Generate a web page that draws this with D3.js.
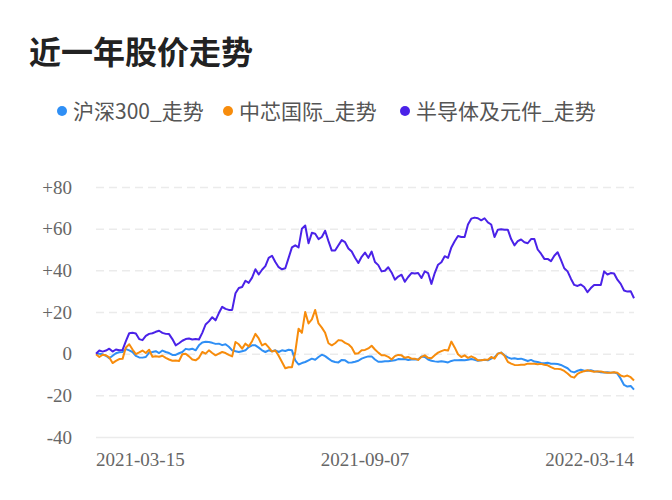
<!DOCTYPE html>
<html>
<head>
<meta charset="utf-8">
<script src="https://cdn.jsdelivr.net/npm/d3@7"></script>
<style>
  html, body { margin: 0; padding: 0; background: #fff; }
  svg { display: block; }
</style>
</head>
<body>
<svg id="chart" width="672" height="500"></svg>
<script>
const title = "近一年股价走势";
const seriesNames = ["沪深300_走势", "中芯国际_走势", "半导体及元件_走势"];
const seriesColors = ["#2f8ff5", "#f78c0c", "#4a22e8"];
const yTicks = [-40, -20, 0, 20, 40, 60, 80];
const yTickLabels = ["-40", "-20", "0", "+20", "+40", "+60", "+80"];
const xTickLabels = ["2021-03-15", "2021-09-07", "2022-03-14"];

const hs300 = [0,0,-0.3,-1,-2.2,-1,0.2,0.7,0.8,2.2,1.6,0.8,-1.1,-1.8,-1.9,-1.6,0.5,0.8,1.2,0.3,1.5,0.8,0.3,-0.6,-0.6,0.2,0.8,2.3,2,2.4,1.6,4,5.4,5.7,5.6,5.2,4.7,4.8,4.1,4.5,3.3,1.6,1.2,0.8,1.2,1.6,3.2,4,4,2.9,1.6,0.8,1.6,1.2,1.6,0.8,1.6,1.3,1.9,1.6,-3.2,-5.2,-4.5,-4,-3.2,-2.4,-2.9,-1.6,-0.5,-1.2,-2.4,-3.5,-4,-4.2,-3,-3.2,-4.3,-4.2,-3.9,-3.4,-2.4,-1.8,-1.3,-1.3,-2.8,-3.9,-3.9,-3.6,-3.6,-3.4,-3.2,-2.6,-2.7,-2.6,-3,-2.8,-2.8,-2.8,-1.4,-1.6,-2.8,-3.4,-3.7,-3.9,-3.6,-3.9,-4.2,-3.5,-3.1,-3.2,-3,-3.2,-2.9,-2.6,-2.9,-3.4,-3.2,-2.9,-3.2,-2.4,-1.8,0,0.5,-0.8,-1.8,-2.4,-2.2,-2.6,-2.4,-2.9,-3.5,-3,-3.8,-4,-4.5,-4.6,-4.4,-4.8,-4.8,-5,-5.4,-6.2,-7,-8.5,-9,-8.2,-7.7,-8.2,-8.2,-8,-8.4,-8.6,-8.9,-9,-8.9,-9.1,-9,-9.6,-12,-15,-15.8,-15.5,-17.3];

const smic = [-0.3,-1.6,-0.5,-0.8,-1.8,-4.5,-3.5,-2.6,-2.5,3,4.5,2,-0.2,0.6,1.5,0.3,1.9,-1.5,-1.2,-1.5,-1,-2,-2.8,-3.4,-3.3,-3.5,-0.3,0,-1.3,-2.8,-3.2,-2,0.8,0,1.6,0.3,-0.8,0,0.8,0.3,-0.6,-1.3,5.6,4.5,2.4,4.8,3.5,6,9.5,7.3,4,4.8,3,1,1.5,-1,-4,-7,-6.5,-6.5,0.8,12,10,20,14.5,16.5,21,14.5,12.5,10,5,4,5,6.5,6.3,5.2,4.5,3,0,0.2,1.6,1.8,2.5,3.8,2,0.5,-0.8,-0.8,-1.5,-2.8,-1.2,-0.6,-0.8,-2,-1.6,-2.4,-2.4,-3,-1.5,-0.8,-2,-2.2,-0.8,0.5,1.2,1.8,1.5,5.8,3,-0.3,-1.6,-0.8,-2,-1.3,-2,-3.2,-3.2,-2.9,-2.9,-1.6,-2.4,0,0.5,-1,-3.9,-4.8,-5.4,-5.5,-5.3,-5.3,-4.8,-4.8,-4.8,-5.1,-4.9,-5.3,-5.6,-6.5,-7.2,-7.3,-7.5,-8.3,-9.5,-11,-11.5,-9.7,-8.9,-8.4,-8,-8.3,-8.7,-8.5,-8.5,-8.9,-9.2,-9.2,-8.9,-9.2,-10.5,-11,-10.5,-11.3,-12.9];

const semi = [0,1.5,1,1.5,2.4,1,2,1.6,1.8,6,9.8,10,9.7,7,6.5,8.5,9.5,9.8,10.5,11,10,9.5,9.4,7,4,5,6.2,7,7.3,6.8,7,6.8,10,14,15.5,17.5,16,19.5,22.5,21.5,21,21,29,31.5,32,35,34,36.5,40.5,38,40.3,42,46,47,44,41.5,40.5,41,46,51,52,51,60,61.5,53,58,57.6,55,56,59,54,49.5,49.5,52,54.5,53.5,50.5,49,46,43.5,46.5,48.5,46,49,44,42.5,39.5,39.8,41.5,39,35.5,37,37.9,34.5,36.8,38.7,38.5,38.7,36.3,39.5,38.7,33.5,38.7,42.7,43.9,46.8,46,51,54,56.5,56,56,62,64.8,65.3,65,64,65,63,62,56,59.5,59.7,59.5,59.5,55,52,54,54.8,53.5,53,55,55,50,48,45.5,45.5,44.4,47,48.7,45,41,39.5,36,33,32.5,33.2,32,29.5,31.5,33,33,33,39.5,38,38.7,38.5,35.5,33.5,30.3,29.8,30,26.6];

const allSeries = [hs300, smic, semi];

(function () {
const svg = d3.select("#chart");
const plotLeft = 96, plotRight = 634, plotTop = 187, plotBottom = 437;

const x = d3.scaleLinear().domain([0, semi.length - 1]).range([plotLeft, plotRight]);
const y = d3.scaleLinear().domain([-40, 80]).range([plotBottom, plotTop]);

// title
svg.append("text")
  .attr("x", 29).attr("y", 64)
  .attr("font-family", "'Noto Sans CJK SC', sans-serif")
  .attr("font-size", 32).attr("font-weight", "bold")
  .attr("fill", "#222")
  .text(title);

// legend
const legendX = [62, 228, 405];
seriesNames.forEach((name, i) => {
  const g = svg.append("g").attr("transform", `translate(${legendX[i]},111)`);
  g.append("circle").attr("r", 5).attr("fill", seriesColors[i]);
  g.append("text").attr("x", 11).attr("y", 7.5)
    .attr("font-family", "'Noto Sans CJK SC', sans-serif")
    .attr("font-size", 21).attr("fill", "#555")
    .text(name);
});

// grid lines
const yAxis = d3.axisLeft(y).tickValues(yTicks)
  .tickSize(-(plotRight - plotLeft))
  .tickFormat((d, i) => yTickLabels[i]);
const gy = svg.append("g").attr("transform", `translate(${plotLeft},0)`).call(yAxis);
gy.select(".domain").remove();
gy.selectAll(".tick line")
  .attr("stroke", "#ebebeb").attr("stroke-width", 1.5)
  .attr("stroke-dasharray", d => d === -40 ? null : "8,5");
gy.selectAll(".tick text")
  .attr("x", -24)
  .attr("font-family", "'Liberation Serif', serif")
  .attr("font-size", 19).attr("fill", "#666");

// x axis labels
const xTickIdx = [0, (semi.length - 1) / 2, semi.length - 1];
const anchors = ["start", "middle", "end"];
svg.append("g").selectAll("text").data(xTickIdx).join("text")
  .attr("x", d => x(d)).attr("y", 466)
  .attr("text-anchor", (d, i) => anchors[i])
  .attr("font-family", "'Liberation Serif', serif")
  .attr("font-size", 19).attr("fill", "#666")
  .text((d, i) => xTickLabels[i]);

// lines
const line = d3.line().x((d, i) => x(i)).y(d => y(d));
allSeries.forEach((s, i) => {
  svg.append("path").datum(s)
    .attr("fill", "none")
    .attr("stroke", seriesColors[i])
    .attr("stroke-width", 2)
    .attr("stroke-linejoin", "round")
    .attr("d", line);
});
})();
</script>
</body>
</html>
